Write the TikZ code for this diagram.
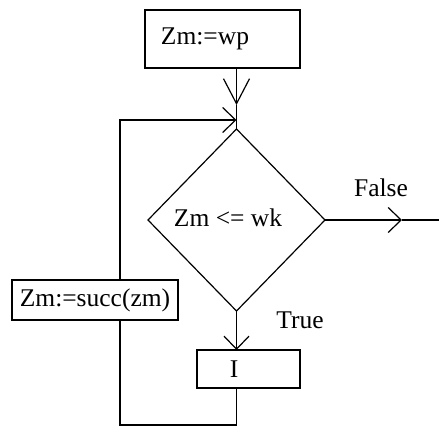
\documentclass[tikz,border=0pt]{standalone}
\usepackage{fontspec}
\setmainfont{Liberation Serif}
\usetikzlibrary{arrows.meta,shapes.geometric}
\begin{document}
\begin{tikzpicture}[x=1pt, y=-1pt, line width=1.2pt,
        every node/.style={font=\fontsize{25.5}{30}\selectfont},
        box/.style={draw, rectangle, inner sep=0pt, outer sep=0pt},
        flow/.style={-{Straight Barb[length=13pt, width=25pt]}},
        longflow/.style={-{Straight Barb[length=25pt, width=26pt]}}]
    \useasboundingbox (0,0) rectangle (439,428);
    \node[box, minimum width=155pt, minimum height=58pt] (init) at (222.5,39) {};
    \node (inittext) at (205,39) {Zm:=wp};
    \node[draw, diamond, inner sep=0pt, outer sep=0pt, minimum width=177pt, minimum height=182pt] (test) at (236.5,220) {};
    \node (testtext) at (228,218) {Zm <= wk};
    \node[box, minimum width=103pt, minimum height=38pt] (body) at (248.5,369) {};
    \node (bodytext) at (234,369) {I};
    \node[box, minimum width=166pt, minimum height=40pt] (incbox) at (95,300) {Zm:=succ(zm)};
    \node (false) at (381,188) {False};
    \node (true) at (300,320) {True};
    \coordinate (entry) at (236.5,105);
    \coordinate (merge) at (236.5,120);
    \coordinate (exittip) at (402,220);
    \coordinate (exit) at (439,220);
    \coordinate (floor) at (236.5,425);
    \coordinate (rail) at (120,425);
    % entry and exit
    \draw[longflow] (init.south -| entry) -- (entry);
    \draw (entry) -- (test.north);
    \draw[flow] (test.east) -- (exittip);
    \draw (exittip) -- (exit);
    % loop back through the step box
    \draw[flow] (test.south) -- (body.north -| test.south);
    \draw (body.south -| floor) -- (floor) -- (rail) -- (incbox.south -| rail);
    \draw[flow] (incbox.north -| rail) -- (rail |- merge) -- (merge);
\end{tikzpicture}
\end{document}
